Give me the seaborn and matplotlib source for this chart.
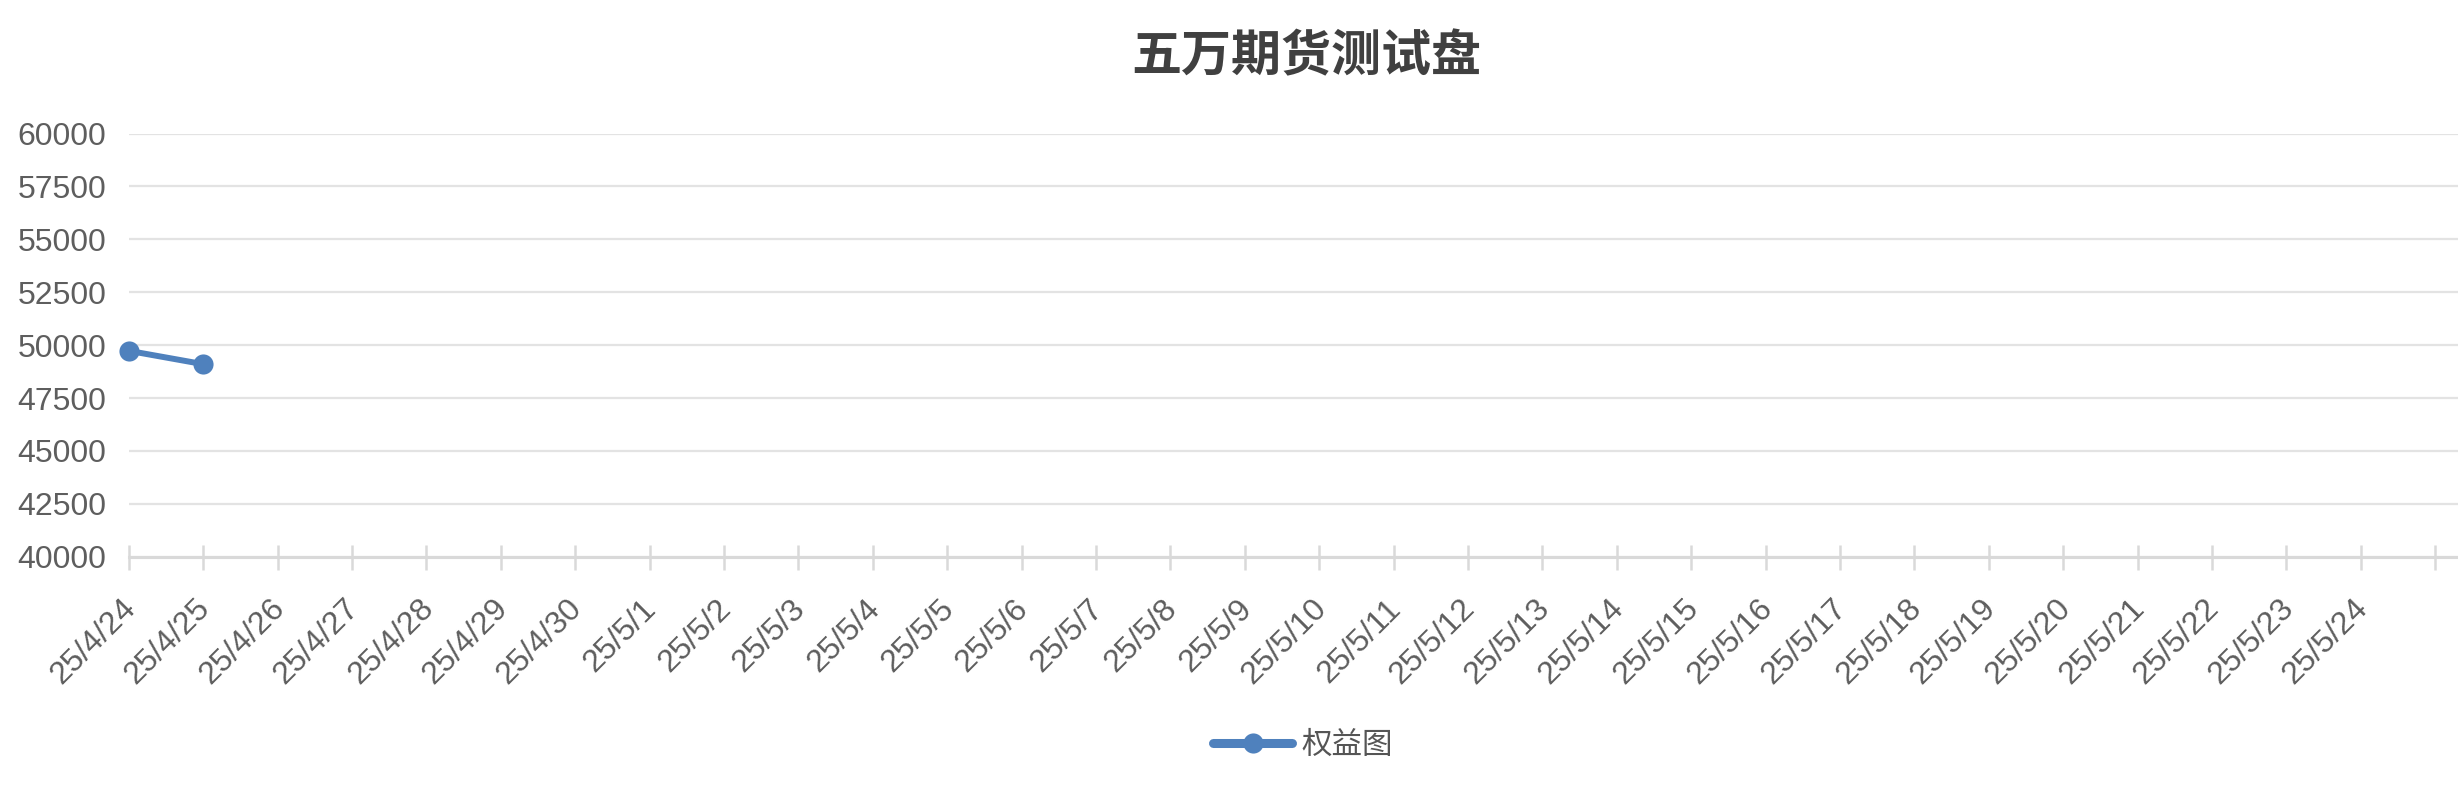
import numpy as np
import pandas as pd
import matplotlib
matplotlib.use("Agg")
import matplotlib.pyplot as plt
from matplotlib.lines import Line2D
import seaborn as sns

# ---- data ----
title = "五万期货测试盘"
series_name = "权益图"
dates = ["25/4/24", "25/4/25", "25/4/26", "25/4/27", "25/4/28", "25/4/29", "25/4/30",
         "25/5/1", "25/5/2", "25/5/3", "25/5/4", "25/5/5", "25/5/6", "25/5/7", "25/5/8",
         "25/5/9", "25/5/10", "25/5/11", "25/5/12", "25/5/13", "25/5/14", "25/5/15",
         "25/5/16", "25/5/17", "25/5/18", "25/5/19", "25/5/20", "25/5/21", "25/5/22",
         "25/5/23", "25/5/24"]
equity = [49730, 49100]
y_ticks = [40000, 42500, 45000, 47500, 50000, 52500, 55000, 57500, 60000]

sns.set_theme(style="white")
plt.rcParams["font.family"] = ["Liberation Sans", "Noto Sans CJK SC", "DejaVu Sans"]

W, H, DPI = 2458, 786, 100
fig = plt.figure(figsize=(W / DPI, H / DPI), dpi=DPI)
ax = fig.add_axes([128.7 / W, 1 - 556.7 / H, 1 - 128.7 / W, (556.7 - 133.5) / H])

blue = "#4f81bd"
df = pd.DataFrame({"pos": np.arange(len(equity)), "value": equity})
sns.lineplot(data=df, x="pos", y="value", ax=ax, color=blue, linewidth=4.3,
             marker="o", markersize=14.5, markeredgewidth=0, clip_on=False, zorder=5)

ax.set_xlim(0, 31.305)
ax.set_ylim(40000, 60000)
ax.set_yticks(y_ticks)
ax.set_yticklabels([str(v) for v in y_ticks])
ax.set_xticks(np.arange(len(dates) + 1))
ax.set_xticklabels(dates + [""])

ax.grid(axis="y", color="#e3e3e3", linewidth=1.6)
ax.grid(axis="x", visible=False)
for s in ["top", "right", "left"]:
    ax.spines[s].set_visible(False)
ax.spines["bottom"].set_color("#d9d9d9")
ax.spines["bottom"].set_linewidth(2.2)
ax.set_xlabel("")
ax.set_ylabel("")

ax.tick_params(axis="y", length=0, pad=16, labelsize=23, labelcolor="#5e5e5e")
ax.tick_params(axis="x", direction="inout", length=18, width=1.8, color="#d9d9d9",
               pad=23.4, labelsize=23, labelcolor="#5e5e5e", bottom=True)

for lab in ax.get_xticklabels():
    lab.set_rotation(45)
    lab.set_ha("right")
    lab.set_va("center_baseline")
    lab.set_rotation_mode("anchor")

fig.text(1306 / W, 1 - 57 / H, title, ha="center", va="center", fontsize=36,
         fontweight="bold", color="#404040", family=["Noto Sans CJK SC", "DejaVu Sans"])

handle = Line2D([0], [0], color=blue, linewidth=6.5, marker="o", markersize=14.5,
                markeredgewidth=0, solid_capstyle="round")
leg = fig.legend([handle], [series_name], loc="center", bbox_to_anchor=(1303 / W, 1 - 745 / H),
                 frameon=False, handlelength=2.6, handletextpad=0.3,
                 prop={"family": ["Noto Sans CJK SC", "DejaVu Sans"], "size": 22})
for t in leg.get_texts():
    t.set_color("#555555")

fig.savefig("out.png", dpi=DPI, facecolor="white")
